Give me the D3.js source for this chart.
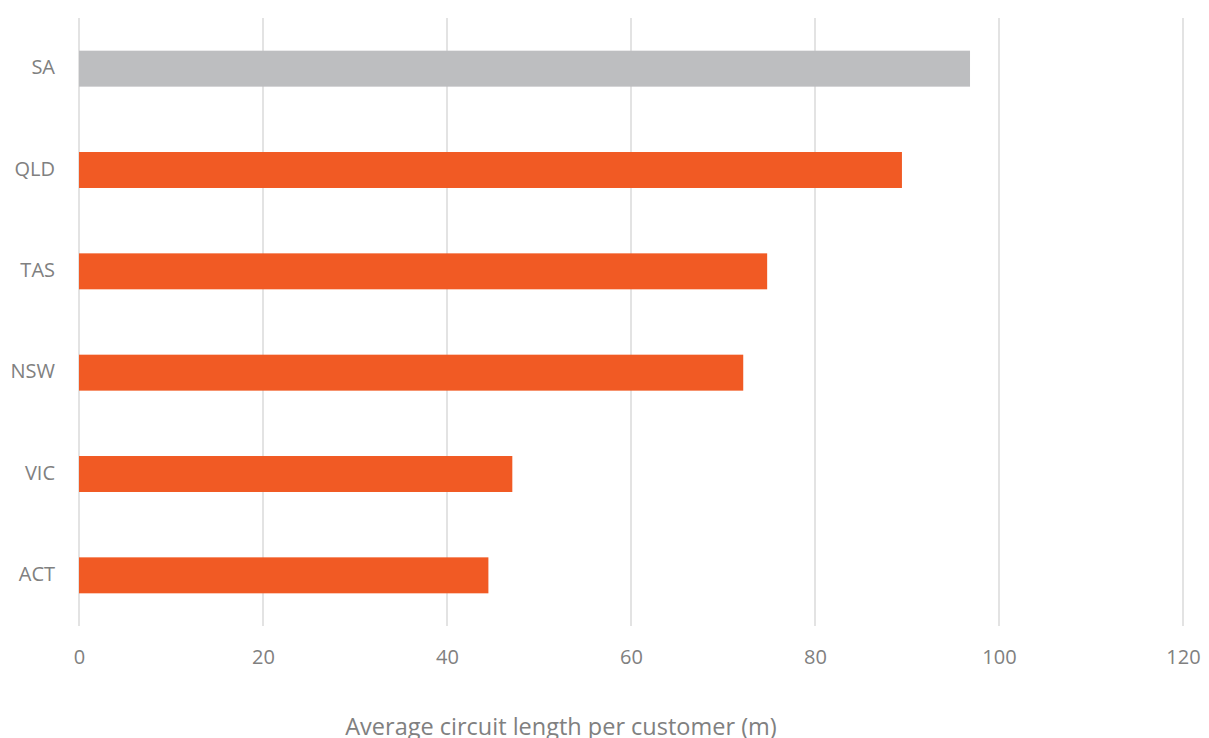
<!DOCTYPE html>
<html>
<head>
<meta charset="utf-8">
<script src="https://cdn.jsdelivr.net/npm/d3@7"></script>
<style>
  body { margin: 0; background: #fff; }
  text { font-family: "Open Sans", sans-serif; fill: #808080; }
</style>
</head>
<body>
<svg id="chart" width="1209" height="738"></svg>
<script>
const categories = ["SA", "QLD", "TAS", "NSW", "VIC", "ACT"];
const values = [96.85, 89.45, 74.8, 72.2, 47.1, 44.5];
const highlight = ["SA"];
const xTicks = [0, 20, 40, 60, 80, 100, 120];
const xTitle = "Average circuit length per customer (m)";

const svg = d3.select("#chart");
const plotLeft = 79, plotRight = 1183, plotTop = 18, plotBottom = 626;

const x = d3.scaleLinear().domain([0, 120]).range([plotLeft, plotRight]);
const y = d3.scaleBand().domain(categories).range([plotTop, plotBottom]).paddingInner(0.645).paddingOuter(0.3225);

// gridlines
svg.append("g").selectAll("line").data(xTicks).join("line")
  .attr("x1", d => x(d)).attr("x2", d => x(d))
  .attr("y1", plotTop).attr("y2", plotBottom)
  .attr("stroke", "#e3e3e3").attr("stroke-width", 2);

// bars
svg.append("g").selectAll("rect").data(categories).join("rect")
  .attr("x", x(0))
  .attr("y", d => y(d))
  .attr("width", (d, i) => x(values[i]) - x(0))
  .attr("height", y.bandwidth())
  .attr("fill", d => highlight.includes(d) ? "#bdbec0" : "#f15a24");

// x axis tick labels
const xAxis = d3.axisBottom(x).tickValues(xTicks).tickSize(0).tickPadding(0);
const gx = svg.append("g").attr("transform", `translate(0,${plotBottom})`).call(xAxis);
gx.select(".domain").remove();
gx.selectAll("text").attr("dy", null).attr("y", 38).style("font-size", "20px")
  .style("font-family", "'Open Sans', sans-serif").attr("fill", "#808080");

// y axis labels
const yAxis = d3.axisLeft(y).tickSize(0).tickPadding(0);
const gy = svg.append("g").attr("transform", `translate(55,-1.5)`).call(yAxis);
gy.select(".domain").remove();
gy.selectAll("text").attr("dy", "0.35em").style("font-size", "20px")
  .style("font-family", "'Open Sans', sans-serif").attr("fill", "#808080");

// axis title
svg.append("text").attr("x", 561).attr("y", 735).attr("text-anchor", "middle")
  .style("font-size", "23.5px").text(xTitle);
</script>
</body>
</html>
